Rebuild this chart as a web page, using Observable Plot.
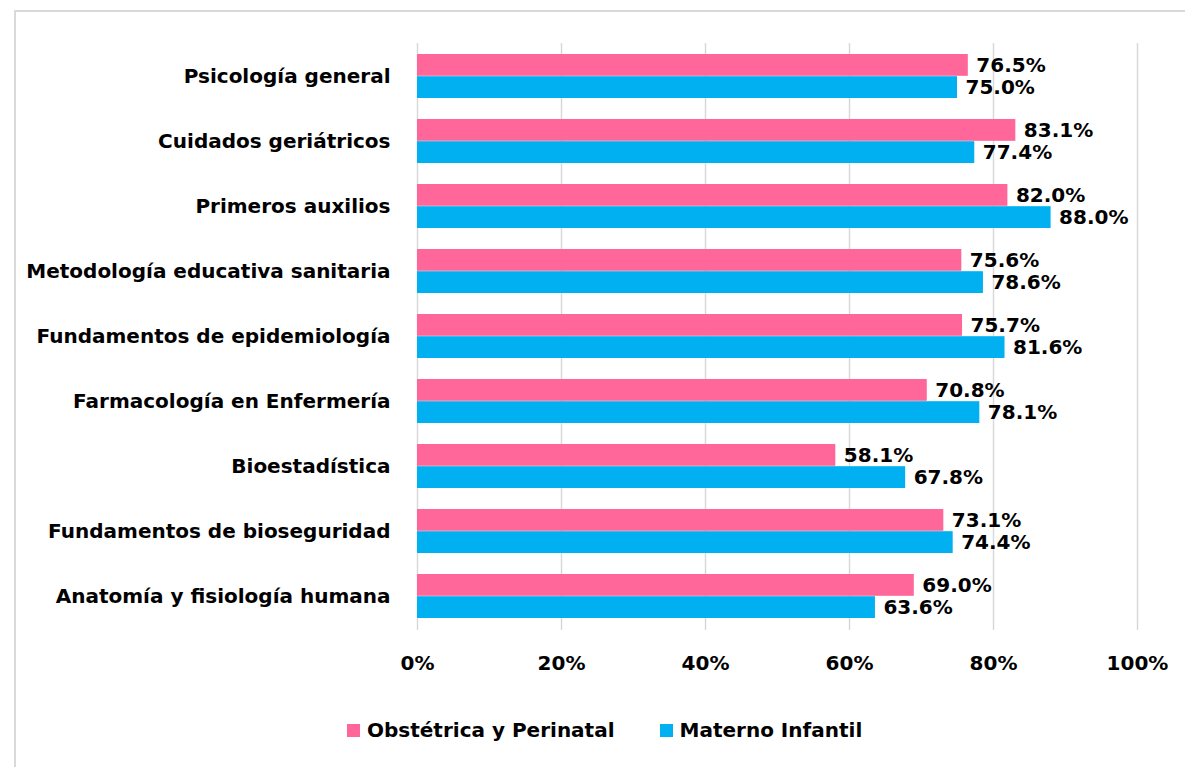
<!DOCTYPE html>
<html>
<head>
<meta charset="utf-8">
<script src="https://cdn.jsdelivr.net/npm/d3@7"></script>
<script src="https://cdn.jsdelivr.net/npm/@observablehq/plot@0.6"></script>
<style>
  body { margin: 0; background: #fff; font-family: "DejaVu Sans", sans-serif; }
  #frame { position: absolute; left: 14px; top: 10px; width: 1175px; height: 765px; border: 2px solid #d9d9d9; box-sizing: border-box; }
  #chart { position: absolute; left: 16px; top: 12px; }
  #legend { position: absolute; left: 347px; top: 718px; display: flex; align-items: center; font-size: 20px; font-weight: bold; color: #000; }
  .sw { width: 13px; height: 13px; display: inline-block; margin-right: 7px; }
  .item { display: flex; align-items: center; margin-right: 45px; }
</style>
</head>
<body>
<div id="frame"></div>
<div id="chart"></div>
<div id="legend"></div>
<script>
const categories = [
  "Psicología general",
  "Cuidados geriátricos",
  "Primeros auxilios",
  "Metodología educativa sanitaria",
  "Fundamentos de epidemiología",
  "Farmacología en Enfermería",
  "Bioestadística",
  "Fundamentos de bioseguridad",
  "Anatomía y fisiología humana"
];
const seriesNames = ["Obstétrica y Perinatal", "Materno Infantil"];
const obstetrica = [76.5, 83.1, 82.0, 75.6, 75.7, 70.8, 58.1, 73.1, 69.0];
const materno    = [75.0, 77.4, 88.0, 78.6, 81.6, 78.1, 67.8, 74.4, 63.6];
const xTicks = [0, 20, 40, 60, 80, 100];
const colors = ["#FF6699", "#00B0F0"];

const dataO = categories.map((c, i) => ({category: c, value: obstetrica[i]}));
const dataM = categories.map((c, i) => ({category: c, value: materno[i]}));

const font = "'DejaVu Sans', sans-serif";
const fs = 20;

const chart = Plot.plot({
  width: 1169,
  height: 690,
  marginLeft: 401,
  marginRight: 48,
  marginTop: 31,
  marginBottom: 72,
  style: {fontFamily: font, fontSize: fs + "px", fontWeight: "bold", color: "#000", background: "transparent"},
  x: {domain: [0, 100], label: null},
  y: {domain: categories, paddingInner: 0.32, paddingOuter: 0.16, label: null},
  marks: [
    Plot.ruleX(xTicks, {stroke: "#d9d9d9", strokeWidth: 1.5}),
    Plot.barX(dataO, {x: "value", y: "category", fill: colors[0], insetBottom: 22.2}),
    Plot.barX(dataM, {x: "value", y: "category", fill: colors[1], insetTop: 22.2}),
    Plot.text(dataO, {x: "value", y: "category", text: d => d.value.toFixed(1) + "%", textAnchor: "start", dx: 8, dy: -11, fontSize: fs, fontWeight: "bold", fill: "#000"}),
    Plot.text(dataM, {x: "value", y: "category", text: d => d.value.toFixed(1) + "%", textAnchor: "start", dx: 8, dy: 11, fontSize: fs, fontWeight: "bold", fill: "#000"}),
    Plot.axisY({tickSize: 0, tickPadding: 27, fontSize: fs, fontWeight: "bold", fill: "#000", label: null}),
    Plot.axisX({ticks: xTicks, tickSize: 0, tickPadding: 25, tickFormat: d => d + "%", fontSize: fs, fontWeight: "bold", fill: "#000", label: null})
  ]
});
document.getElementById("chart").appendChild(chart);

const legend = document.getElementById("legend");
seriesNames.forEach((name, i) => {
  const item = document.createElement("div");
  item.className = "item";
  const sw = document.createElement("span");
  sw.className = "sw";
  sw.style.background = colors[i];
  item.appendChild(sw);
  item.appendChild(document.createTextNode(name));
  legend.appendChild(item);
});
</script>
</body>
</html>
